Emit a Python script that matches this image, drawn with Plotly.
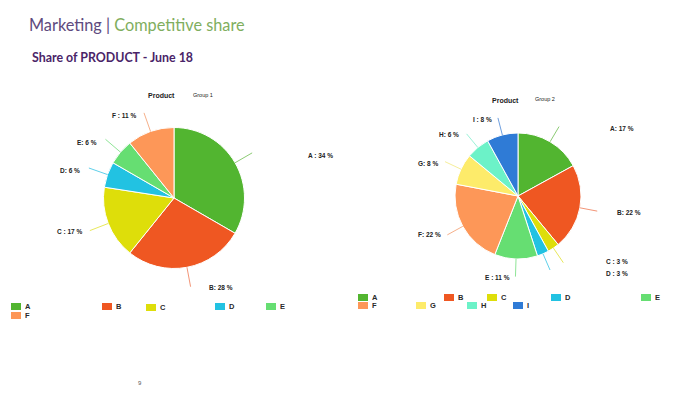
import math
import plotly.graph_objects as go

W, H = 700, 393

# ---------------- data ----------------
g1_labels = ["A", "B", "C", "D", "E", "F"]
g1_values = [34, 28, 17, 6, 6, 11]

g2_labels = ["A", "B", "C", "D", "E", "F", "G", "H", "I"]
g2_values = [17, 22, 3, 3, 11, 22, 8, 6, 8]

# ---------------- style ----------------
colors = {
    "A": "#52B530", "B": "#EF5722", "C": "#DEDE0A", "D": "#22C2E2",
    "E": "#66DE72", "F": "#FD9758", "G": "#FDEB6A", "H": "#6CF2C8", "I": "#2F7BD6",
}
line_colors = {
    "A": "#8CCB74", "B": "#F39577", "C": "#E8E85A", "D": "#5FD0EA",
    "E": "#8FE597", "F": "#F6B08A", "G": "#F6EE9A", "H": "#9BF2D8", "I": "#6E9FDF",
}
# pie centre / radius in pixels
pie1 = dict(cx=174, cy=198, r=70.5)
pie2 = dict(cx=518, cy=196, r=63)
# label text centres, pixel offsets from pie centre
g1_label_off = [(146, -43), (47, 89), (-104, 33), (-104, -27), (-87, -56), (-50, -82)]
g2_label_off = [(104, -68), (111, 16), (99, 65), (99, 77), (-21, 81), (-89, 39),
                (-90, -33), (-69, -62), (-36, -77)]
g1_fmt = ["{} : {} %", "{}: {} %", "{} : {} %", "{}: {} %", "{}: {} %", "{} : {} %"]
g2_fmt = ["{}: {} %", "{}: {} %", "{} : {} %", "{} : {} %", "{} : {} %", "{}: {} %",
          "{}: {} %", "{}: {} %", "{} : {} %"]
# custom legend item positions (swatch left x, swatch top y) in pixels
leg1_pos = [(11, 303), (102, 303), (146, 304), (215, 303), (266, 303), (11, 312)]
leg2_pos = [(358, 294), (444, 294), (487, 294), (551, 294), (641, 294),
            (358, 302), (416, 302), (467, 302), (513, 302)]

LABEL_FONT = dict(family="Liberation Sans", size=6.5, color="#222222")


def px(x):
    return x / W


def py(y):
    return 1 - y / H


fig = go.Figure()


def add_pie(labels, values, p, name):
    fig.add_trace(go.Pie(
        labels=labels, values=values, name=name,
        sort=False, direction="clockwise", rotation=0,
        marker=dict(colors=[colors[l] for l in labels], line=dict(color="white", width=1)),
        textinfo="none", hoverinfo="label+percent", showlegend=False,
        domain=dict(x=[px(p["cx"] - p["r"]), px(p["cx"] + p["r"])],
                    y=[py(p["cy"] + p["r"]), py(p["cy"] - p["r"])]),
    ))


add_pie(g1_labels, g1_values, pie1, "Group 1")
add_pie(g2_labels, g2_values, pie2, "Group 2")

shapes = []
annotations = []


def leaders(labels, values, p, offs, fmts):
    total = sum(values)
    cum = 0
    for lab, v, off, fmt in zip(labels, values, offs, fmts):
        mid = (cum + v / 2) / total * 2 * math.pi
        cum += v
        sx, sy = math.sin(mid), -math.cos(mid)
        x0, y0 = p["cx"] + p["r"] * sx, p["cy"] + p["r"] * sy
        x1, y1 = p["cx"] + p["r"] * 1.28 * sx, p["cy"] + p["r"] * 1.28 * sy
        shapes.append(dict(type="line", xref="paper", yref="paper",
                           x0=px(x0), y0=py(y0), x1=px(x1), y1=py(y1),
                           line=dict(color=line_colors[lab], width=1)))
        annotations.append(dict(text="<b>" + fmt.format(lab, v) + "</b>", showarrow=False,
                                xref="paper", yref="paper",
                                x=px(p["cx"] + off[0]), y=py(p["cy"] + off[1]),
                                xanchor="center", yanchor="middle", font=LABEL_FONT))


leaders(g1_labels, g1_values, pie1, g1_label_off, g1_fmt)
leaders(g2_labels, g2_values, pie2, g2_label_off, g2_fmt)


def legend(labels, pos):
    for lab, (x, y) in zip(labels, pos):
        shapes.append(dict(type="rect", xref="paper", yref="paper",
                           x0=px(x), x1=px(x + 10), y0=py(y + 7), y1=py(y),
                           fillcolor=colors[lab], line=dict(width=0)))
        annotations.append(dict(text="<b>" + lab + "</b>", showarrow=False,
                                xref="paper", yref="paper",
                                x=px(x + 12), y=py(y + 3.5), xanchor="left", yanchor="middle",
                                font=dict(family="Liberation Sans", size=7.5, color="#2A2A2A")))


legend(g1_labels, leg1_pos)
legend(g2_labels, leg2_pos)

# titles
annotations.append(dict(
    text="<span style='color:#5E4A7E'>Marketing | </span><span style='color:#7FAE5E'>Competitive share</span>",
    showarrow=False, xref="paper", yref="paper", x=px(27), y=py(25),
    xanchor="left", yanchor="middle", font=dict(family="Lato", size=16.3)))
annotations.append(dict(
    text="<b>Share of PRODUCT - June 18</b>", showarrow=False, xref="paper", yref="paper",
    x=px(30), y=py(57), xanchor="left", yanchor="middle",
    font=dict(family="Lato", size=12.4, color="#4A2468")))
for (tx, ty, gx, gy, g) in [(161, 95, 203, 95, "Group 1"), (505, 100, 545, 99, "Group 2")]:
    annotations.append(dict(text="<b>Product</b>", showarrow=False, xref="paper", yref="paper",
                            x=px(tx), y=py(ty), xanchor="center", yanchor="middle",
                            font=dict(family="Liberation Sans", size=7, color="#222222")))
    annotations.append(dict(text=g, showarrow=False, xref="paper", yref="paper",
                            x=px(gx), y=py(gy), xanchor="center", yanchor="middle",
                            font=dict(family="Liberation Sans", size=5.5, color="#222222")))
annotations.append(dict(text="9", showarrow=False, xref="paper", yref="paper",
                        x=px(140), y=py(383), xanchor="center", yanchor="middle",
                        font=dict(family="Liberation Sans", size=6, color="#555555")))

fig.update_layout(
    width=W, height=H, margin=dict(l=0, r=0, t=0, b=0),
    paper_bgcolor="white", plot_bgcolor="white",
    shapes=shapes, annotations=annotations, showlegend=False,
)

fig.write_html("out.html", config={"displayModeBar": False},
               post_script="document.body.style.margin='0';document.body.style.overflow='hidden';")
